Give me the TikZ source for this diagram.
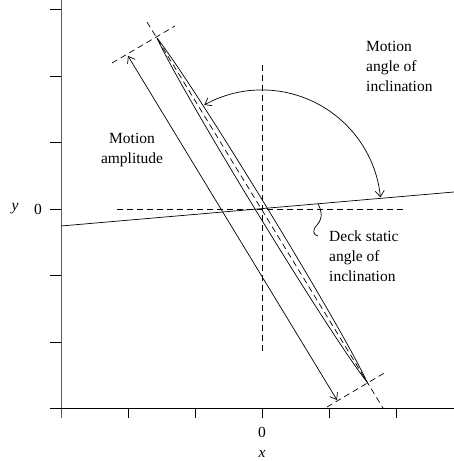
\documentclass[tikz,border=0pt]{standalone}
\usepackage{fontspec}
\setmainfont{Liberation Serif}
\usetikzlibrary{arrows.meta,calc}
\begin{document}
\begin{tikzpicture}[x=1pt,y=1pt,
  ln/.style={line width=0.7pt,black},
  dsh/.style={line width=0.7pt,black,dash pattern=on 6pt off 4pt},
  barb/.style={{Straight Barb[length=6pt,width=9pt]}-{Straight Barb[length=6pt,width=9pt]}},
  lbl/.style={font=\fontsize{15.5}{20}\selectfont,inner sep=0pt},
  tick/.style={line width=0.7pt,black}]
\useasboundingbox (0,0) rectangle (454,461);
% axes
\coordinate (yt) at (61,461);
\coordinate (corner) at (61,53);
\coordinate (xr) at (454,53);
\coordinate (xl) at (50,53);
\draw[ln,black!65] (yt) -- (61,43);
\draw[ln] (xl) -- (xr);
\foreach \xx in {128,195,262,329,396} \draw[tick] (\xx,53) -- (\xx,43);
\foreach \yy in {451.5,385,318.5,252,185.5,119} \draw[tick] (50,\yy) -- (61,\yy);
\node[lbl] (y0) at (38,252) {0};
\node[lbl] (ylab) at (15,252) {\textit{y}};
\node[lbl] (x0) at (262,29) {0};
\node[lbl,anchor=base] (xlab) at (262,4) {\textit{x}};
% crosshair
\coordinate (O) at (262,252);
\coordinate (hl) at (117,252);
\coordinate (hr) at (405,252);
\coordinate (vt) at (262,396);
\coordinate (vb) at (262,109);
\draw[dsh] (hl) -- (hr);
\draw[dsh] (vt) -- (vb);
% deck line
\coordinate (dl) at (61,235);
\coordinate (dr) at (454,269);
\draw[ln] (dl) -- (dr);
% strip
\coordinate (A) at (157,423);
\coordinate (B) at (367,79);
\draw[ln] (A) .. controls ($(A)!0.15!(B)+(6.2,3.8)$) and ($(A)!0.85!(B)+(6.2,3.8)$) .. (B)
          .. controls ($(A)!0.85!(B)-(6.2,3.8)$) and ($(A)!0.15!(B)-(6.2,3.8)$) .. (A);
\coordinate (ct) at (147,439);
\coordinate (cb) at (383,53);
\draw[dsh] (ct) -- (cb);
% perpendicular dashed
\coordinate (pt1) at (112,398);
\coordinate (pt2) at (175,435);
\coordinate (pb1) at (327,54);
\coordinate (pb2) at (386,89);
\draw[dsh] (pt1) -- (pt2);
\draw[dsh] (pb1) -- (pb2);
% amplitude arrow
\coordinate (at) at (128,405);
\coordinate (ab) at (337,61);
\draw[ln,barb] (at) -- (ab);
% motion angle arc
\draw[ln,barb] ($(O)+(119:119)$) arc[start angle=119,end angle=5.6,radius=119];
% squiggle leader
\coordinate (s0) at (318,257);
\coordinate (s1) at (318,225);
\draw[ln] (s0) .. controls (322,250) and (323,243) .. (317,236)
          .. controls (312,231) and (313,226) .. (s1);
% labels
\node[lbl,align=left,anchor=west] (mai) at (366,395) {Motion\\angle of\\inclination};
\node[lbl,align=left,anchor=west] (dsa) at (329,205) {Deck static\\angle of\\inclination};
\node[lbl,align=center] (mam) at (132,311) {Motion\\amplitude};
\end{tikzpicture}
\end{document}
